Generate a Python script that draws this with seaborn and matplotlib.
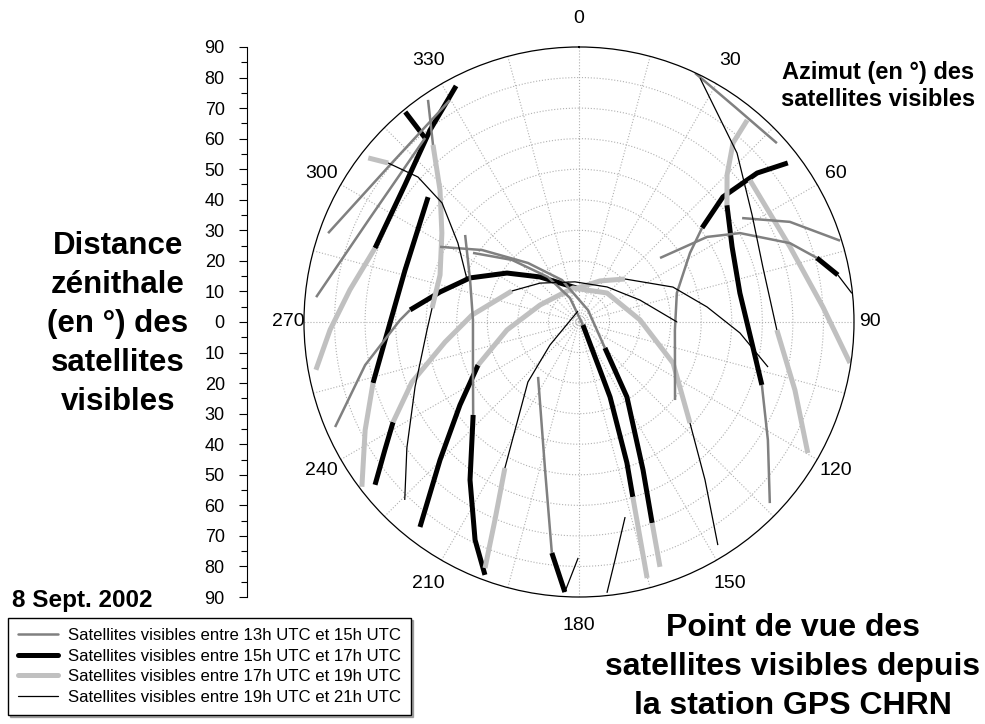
import numpy as np
import pandas as pd
import seaborn as sns
import matplotlib.pyplot as plt
from matplotlib.lines import Line2D

# --- Periods (UTC) ---
PERIODS = ['13h-15h', '15h-17h', '17h-19h', '19h-21h']
PERIOD_LABELS = [
    'Satellites visibles entre 13h UTC et 15h UTC',
    'Satellites visibles entre 15h UTC et 17h UTC',
    'Satellites visibles entre 17h UTC et 19h UTC',
    'Satellites visibles entre 19h UTC et 21h UTC',
]
COLORS = {'13h-15h': '#808080', '15h-17h': '#000000', '17h-19h': '#c0c0c0', '19h-21h': '#000000'}
WIDTHS = {'13h-15h': 1.8, '15h-17h': 3.6, '17h-19h': 3.6, '19h-21h': 0.9}

# azimuth labels every 30 deg, outer ticks every 15 deg
AZ_LABELS = [0, 30, 60, 90, 120, 150, 180, 210, 240, 270, 300, 330]

# --- Satellite passes: azimuth (deg), zenith distance (deg), period index of each span ---
sat_a_az = [332.5, 322.2, 308.2, 289.9, 278.0, 268.2, 259.7]
sat_a_zen = [87.1, 79.5, 72.5, 71.0, 75.7, 81.5, 87.5]
sat_a_per = [2, 2, 2, 3, 3, 3]

sat_b_az = [329.8, 309.7, 289.5]
sat_b_zen = [84.0, 80.4, 87.1]
sat_b_per = [1, 1]

sat_c_az = [320.4, 320.1, 296.5, 275.4]
sat_c_zen = [89.2, 78.5, 76.4, 86.4]
sat_c_per = [2, 1, 1]

sat_d_az = [325.8, 320.5, 313.5, 303.0, 288.7, 275.4, 267.0, 248.4, 233.8, 224.4]
sat_d_zen = [87.9, 75.1, 62.7, 53.5, 48.0, 48.3, 49.8, 57.7, 69.8, 81.5]
sat_d_per = [1, 3, 3, 3, 3, 4, 4, 4, 4]

sat_e_az = [307.9, 309.8, 312.0, 311.0, 303.1, 290.6]
sat_e_zen = [87.4, 81.3, 70.9, 59.4, 47.3, 39.1]
sat_e_per = [3, 4, 4, 4, 4]

sat_f_az = [309.6, 286.6, 264.7, 253.5, 243.2, 232.8]
sat_f_zen = [64.1, 59.4, 63.7, 70.3, 78.4, 89.2]
sat_f_per = [2, 2, 2, 3, 3]

sat_g_az = [246.7, 258.6, 270.6, 274.1, 282.2, 292.0, 304.2, 319.1, 356.6, 27.1, 46.9, 69.6, 83.3, 93.9, 103.4]
sat_g_zen = [86.9, 71.4, 58.6, 55.4, 46.5, 38.5, 28.5, 19.5, 11.1, 15.1, 20.6, 32.8, 42.2, 52.8, 63.6]
sat_g_per = [1, 1, 1, 2, 2, 2, 2, 2, 3, 3, 4, 4, 4, 4]

sat_h_az = [231.4, 236.6, 241.7, 250.2, 261.5, 273.7, 294.8, 315.0, 354.3, 38.7, 70.2, 90.0]
sat_h_zen = [85.4, 76.1, 69.1, 58.1, 44.3, 35.1, 24.2, 18.0, 13.2, 14.7, 21.2, 32.1]
sat_h_per = [2, 2, 3, 3, 3, 3, 4, 4, 4, 4, 4]

sat_i_az = [217.8, 225.2, 235.1, 246.9, 263.7, 293.6, 350.0, 44.0, 88.1, 113.6, 132.3, 141.4, 148.1]
sat_i_zen = [84.9, 64.1, 47.5, 35.9, 23.7, 13.9, 11.3, 13.2, 20.0, 33.6, 49.1, 66.1, 86.0]
sat_i_per = [2, 2, 2, 3, 3, 3, 3, 3, 3, 3, 4, 4]

sat_l_az = [298.4, 306.6, 319.2, 338.0, 36.9, 135.0, 147.4, 156.6, 160.0, 161.7]
sat_l_zen = [51.7, 39.5, 25.5, 14.8, 4.9, 12.0, 29.1, 52.8, 70.0, 84.4]
sat_l_per = [1, 1, 1, 1, 1, 2, 2, 2, 3]

sat_m_az = [303.1, 312.8, 325.4, 339.4, 127.0, 156.4, 157.5, 161.2, 162.9, 165.1]
sat_m_zen = [41.4, 29.9, 17.9, 8.4, 1.6, 17.1, 26.6, 48.7, 59.9, 86.7]
sat_m_per = [1, 1, 1, 1, 2, 2, 2, 2, 3]

sat_n_az = [307.4, 291.1, 271.1, 245.6, 228.7, 214.6, 205.5, 200.4]
sat_n_zen = [46.9, 38.2, 34.7, 38.1, 46.1, 62.8, 79.0, 88.3]
sat_n_per = [1, 1, 1, 1, 2, 2, 2]

sat_o_az = [354.8, 231.6, 220.4, 206.9, 203.0, 200.9]
sat_o_zen = [3.6, 12.1, 25.8, 53.6, 70.4, 86.2]
sat_o_per = [4, 4, 4, 3, 3]

sat_p_az = [216.7, 192.9, 186.7, 183.0, 180.2]
sat_p_zen = [22.4, 49.7, 76.1, 88.5, 77.2]
sat_p_per = [1, 1, 2, 4]

sat_q_az = [166.7, 171.4, 174.1]
sat_q_zen = [65.6, 78.8, 89.1]
sat_q_per = [4, 4]

sat_s_az = [129.1, 94.8, 73.5, 58.1, 52.6, 49.0, 50.1, 52.7]
sat_s_zen = [40.5, 31.5, 33.4, 42.8, 50.7, 62.4, 76.0, 85.9]
sat_s_per = [1, 1, 1, 1, 2, 2, 2]

sat_t_az = [39.8, 40.7, 45.2, 51.7, 63.9, 79.8, 96.9, 109.0, 122.0, 133.5]
sat_t_zen = [86.0, 77.3, 68.3, 61.7, 55.8, 53.5, 57.0, 63.3, 72.9, 86.1]
sat_t_per = [3, 3, 3, 2, 2, 2, 2, 1, 1]

sat_u_az = [26.4, 43.1, 58.3, 73.4, 92.3, 107.5, 119.8]
sat_u_zen = [89.1, 75.7, 66.6, 62.8, 64.8, 74.1, 86.3]
sat_u_per = [4, 4, 4, 4, 3, 3]

sat_v_az = [25.0, 36.3, 47.9]
sat_v_zen = [89.9, 86.9, 87.3]
sat_v_per = [1, 1]

sat_w_az = [50.3, 70.4, 86.5, 98.6]
sat_w_zen = [72.7, 73.3, 80.0, 89.7]
sat_w_per = [3, 3, 3]

sat_x1_az = [57.5, 64.6, 72.7]
sat_x1_zen = [63.3, 76.4, 89.5]
sat_x1_per = [1, 1]

sat_x2_az = [51.7, 56.4, 61.1, 69.5, 74.9, 79.7, 84.0]
sat_x2_zen = [33.8, 50.3, 60.2, 73.7, 80.6, 86.1, 89.8]
sat_x2_per = [1, 1, 1, 1, 2, 4]

passes = [
    (sat_a_az, sat_a_zen, sat_a_per), (sat_b_az, sat_b_zen, sat_b_per),
    (sat_c_az, sat_c_zen, sat_c_per), (sat_d_az, sat_d_zen, sat_d_per),
    (sat_e_az, sat_e_zen, sat_e_per), (sat_f_az, sat_f_zen, sat_f_per),
    (sat_g_az, sat_g_zen, sat_g_per), (sat_h_az, sat_h_zen, sat_h_per),
    (sat_i_az, sat_i_zen, sat_i_per), (sat_l_az, sat_l_zen, sat_l_per),
    (sat_m_az, sat_m_zen, sat_m_per), (sat_n_az, sat_n_zen, sat_n_per),
    (sat_o_az, sat_o_zen, sat_o_per), (sat_p_az, sat_p_zen, sat_p_per),
    (sat_q_az, sat_q_zen, sat_q_per), (sat_s_az, sat_s_zen, sat_s_per),
    (sat_t_az, sat_t_zen, sat_t_per), (sat_u_az, sat_u_zen, sat_u_per),
    (sat_v_az, sat_v_zen, sat_v_per), (sat_w_az, sat_w_zen, sat_w_per),
    (sat_x1_az, sat_x1_zen, sat_x1_per), (sat_x2_az, sat_x2_zen, sat_x2_per),
]

# Split every pass into segments of constant period (long-form table)
rows = []
seg_id = 0
for az, zen, per in passes:
    start = 0
    for i in range(1, len(per) + 1):
        if i == len(per) or per[i] != per[start]:
            for j in range(start, i + 1):
                rows.append({'seg': seg_id, 'period': PERIODS[per[start] - 1],
                             'theta': np.deg2rad(az[j]), 'zen': zen[j]})
            seg_id += 1
            start = i
df = pd.DataFrame(rows)

# --- Figure ---
sns.set_theme(style='white')
plt.rcParams['font.family'] = ['Liberation Sans', 'DejaVu Sans']
plt.rcParams['text.color'] = 'black'
plt.rcParams['xtick.color'] = 'black'
plt.rcParams['ytick.color'] = 'black'
plt.rcParams['axes.labelcolor'] = 'black'

fig = plt.figure(figsize=(9.85, 7.24), dpi=100)
ax = fig.add_axes([0.3086, 0.1754, 0.5584, 0.7597], projection='polar')
ax.set_theta_zero_location('N')
ax.set_theta_direction(-1)

sns.lineplot(data=df, x='theta', y='zen', hue='period', size='period',
             palette=COLORS, sizes=WIDTHS, units='seg', estimator=None,
             sort=False, legend=False, ax=ax, solid_capstyle='butt')

ax.set_ylim(0, 90)
ax.set_yticks(np.arange(10, 90, 10))
ax.set_yticklabels([])
ax.set_xticks(np.deg2rad(np.arange(0, 360, 15)))
ax.set_xticklabels([])
ax.tick_params(axis='x', direction='in', length=6, width=0.8, colors='black')
ax.grid(True, linestyle=':', color='#b0b0b0', linewidth=0.8)
ax.spines['polar'].set_color('black')
ax.spines['polar'].set_linewidth(0.9)
ax.set_xlabel('')
ax.set_ylabel('')

# azimuth labels just outside the horizon circle
for a in AZ_LABELS:
    r = np.deg2rad(a)
    d = (16 + 12 * abs(np.cos(r))) * 0.72
    ax.annotate(str(a), xy=(r, 90), xytext=(d * np.sin(r), d * np.cos(r)),
                textcoords='offset points', ha='center', va='center',
                fontsize=14, annotation_clip=False)

# --- Vertical zenith distance scale ---
sc = fig.add_axes([247 / 985, 0.1754, 0.0001, 0.7597])
sc.set_ylim(-90, 90)
sc.set_yticks(np.arange(-90, 91, 10))
sc.set_yticklabels([str(abs(v)) for v in range(-90, 91, 10)])
sc.set_yticks(np.arange(-85, 90, 10), minor=True)
sc.set_xticks([])
for side in ['top', 'right', 'bottom']:
    sc.spines[side].set_visible(False)
sc.spines['left'].set_color('black')
sc.spines['left'].set_linewidth(0.8)
sc.tick_params(axis='y', which='major', direction='out', length=6, width=0.8,
               left=True, labelsize=13, pad=10, colors='black')
sc.tick_params(axis='y', which='minor', direction='out', length=4, width=0.8,
               left=True, colors='black')
sc.patch.set_alpha(0)

# --- Texts ---
fig.text(118 / 985, 1 - 324 / 724, 'Distance\nzénithale\n(en °) des\nsatellites\nvisibles',
         ha='center', va='center', fontsize=22.5, fontweight='bold', linespacing=1.4)
fig.text(878 / 985, 1 - 86 / 724, 'Azimut (en °) des\nsatellites visibles',
         ha='center', va='center', fontsize=17, fontweight='bold', linespacing=1.22)
fig.text(793 / 985, 1 - 667 / 724, 'Point de vue des\nsatellites visibles depuis\nla station GPS CHRN',
         ha='center', va='center', fontsize=23, fontweight='bold', linespacing=1.38)
fig.text(82 / 985, 1 - 601 / 724, '8 Sept. 2002',
         ha='center', va='center', fontsize=17.5, fontweight='bold')

# --- Legend ---
handles = [Line2D([], [], color=COLORS[p], linewidth=WIDTHS[p]) for p in PERIODS]
leg = fig.legend(handles, PERIOD_LABELS, loc='upper left',
                 bbox_to_anchor=(8 / 985, 1 - 618 / 724), bbox_transform=fig.transFigure,
                 fontsize=12.1, frameon=True, fancybox=False, edgecolor='black',
                 handlelength=2.4, handletextpad=0.55, labelspacing=0.33,
                 borderpad=0.6, borderaxespad=0,
                 shadow={'ox': 1.5, 'oy': -1.5, 'color': '#606060'})
leg.get_frame().set_linewidth(1.0)
leg.get_frame().set_alpha(1)

fig.savefig('out.png', dpi=100)
